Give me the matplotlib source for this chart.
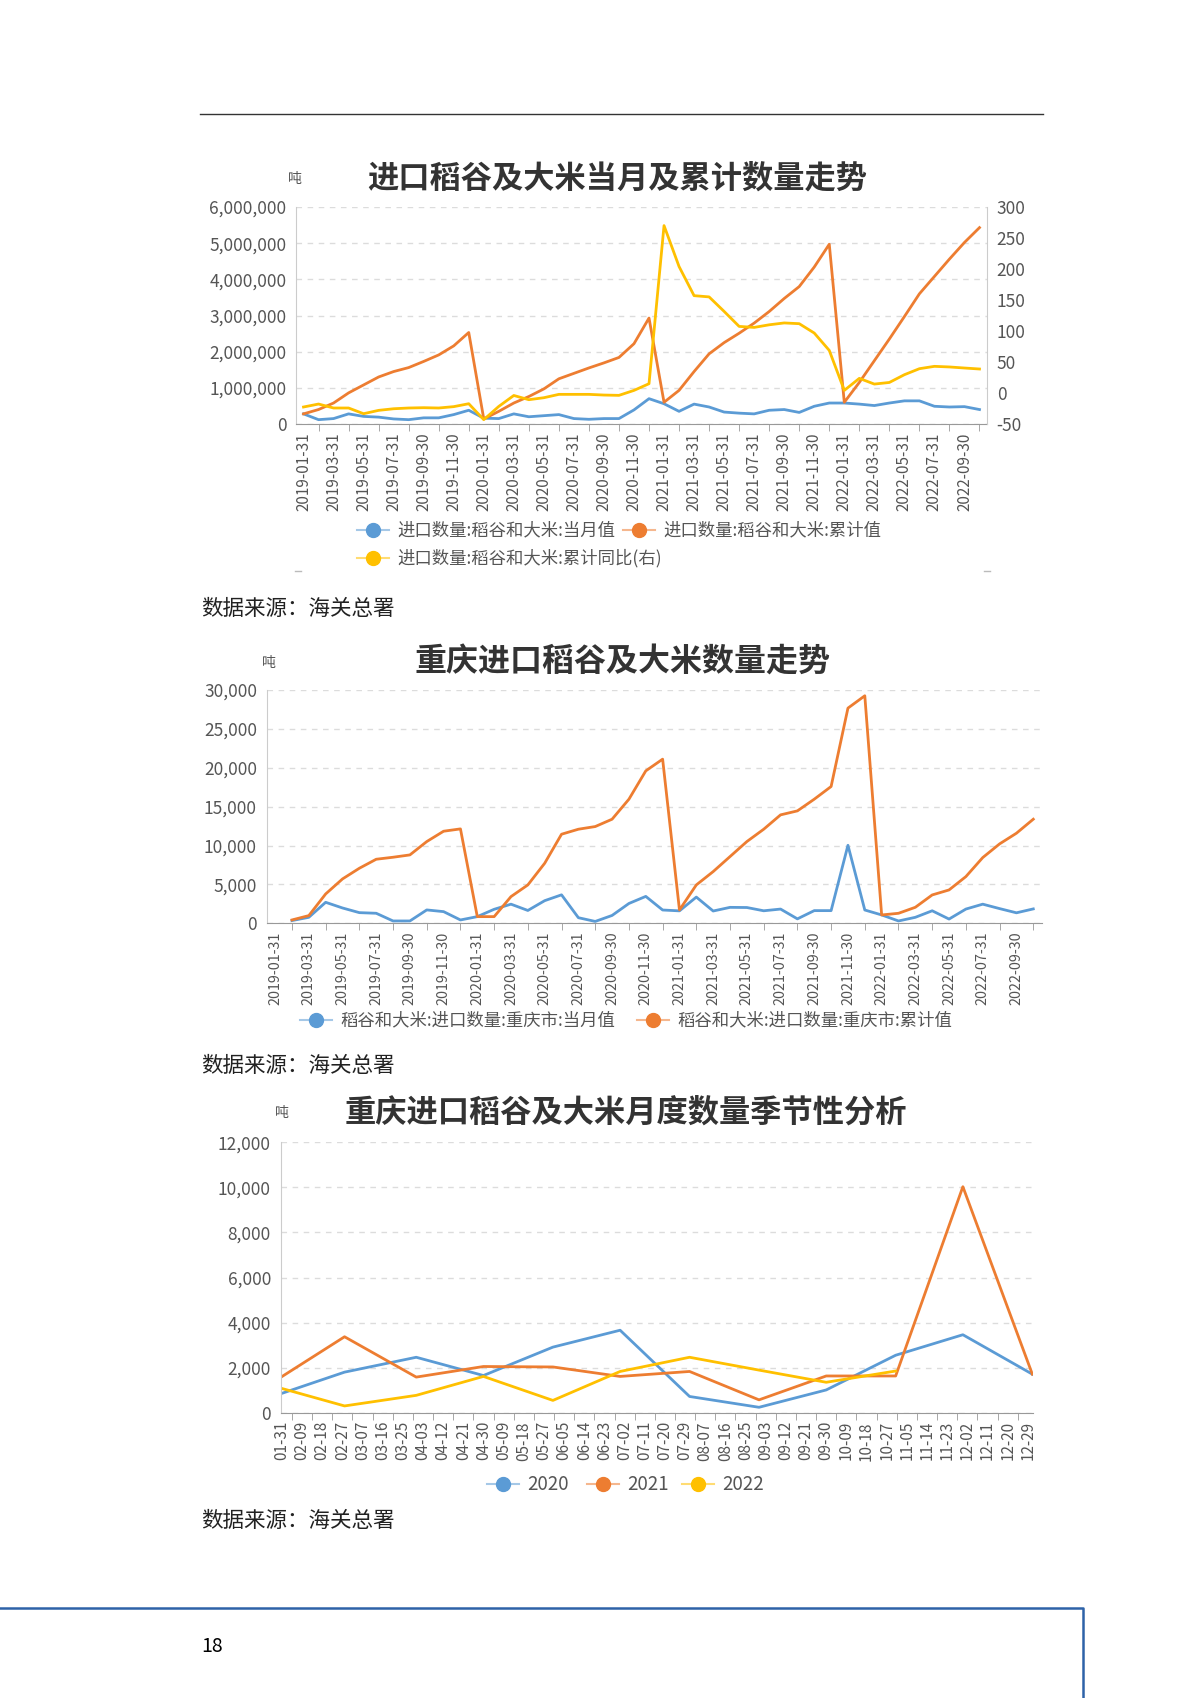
import matplotlib
matplotlib.use('Agg')
import matplotlib.pyplot as plt
from matplotlib.lines import Line2D
from matplotlib.ticker import FuncFormatter, FixedLocator

plt.rcParams['font.family'] = ['Noto Sans CJK SC', 'DejaVu Sans']
plt.rcParams['axes.unicode_minus'] = False

# ---------------- 数据 ----------------
# 图1: 2019-01 ~ 2022-10 月度
months1 = ['%d-%02d-%02d' % (y, m, [31, 28, 31, 30, 31, 30, 31, 31, 30, 31, 30, 31][m - 1])
           for y in range(2019, 2023) for m in range(1, 13)][:46]
monthly_total = [280000, 120000, 150000, 280000, 210000, 190000, 140000, 120000, 170000, 170000, 260000, 380000,
                 160000, 150000, 280000, 200000, 230000, 260000, 150000, 130000, 150000, 150000, 390000, 700000,
                 560000, 350000, 550000, 470000, 330000, 300000, 280000, 380000, 400000, 320000, 490000, 580000,
                 580000, 550000, 510000, 580000, 640000, 640000, 490000, 470000, 480000, 400000]
cum_total = [280000, 400000, 580000, 860000, 1080000, 1300000, 1450000, 1560000, 1730000, 1910000, 2160000, 2530000,
             140000, 350000, 580000, 760000, 970000, 1250000, 1400000, 1550000, 1690000, 1840000, 2220000, 2930000,
             600000, 930000, 1450000, 1940000, 2250000, 2510000, 2790000, 3110000, 3470000, 3800000, 4340000, 4970000,
             600000, 1150000, 1750000, 2350000, 2970000, 3600000, 4080000, 4560000, 5020000, 5430000]
cum_yoy = [-22.6, -17.8, -24.2, -24.2, -33.4, -28.0, -25.4, -24.2, -23.7, -24.2, -22.0, -17.3,
           -43.0, -21.6, -4.0, -10.8, -7.6, -2.2, -2.2, -2.2, -3.3, -3.8, 4.2, 15.0,
           270.0, 204.0, 157.0, 155.0, 131.6, 107.4, 105.8, 110.0, 113.0, 111.8, 96.7, 68.7,
           4.2, 23.6, 14.4, 17.0, 29.5, 39.2, 43.0, 42.0, 40.3, 38.7]

# 图2: 重庆 2019-01 ~ 2022-10 (2019-01 无数据)
months2 = months1
cq_monthly = [None, 350, 770, 2700, 1970, 1370, 1290, 300, 300, 1720, 1500, 430,
              858, 1800, 2460, 1650, 2910, 3660, 720, 240, 1010, 2550, 3460, 1710,
              1600, 3370, 1580, 2050, 2030, 1610, 1830, 570, 1630, 1630, 10030, 1710,
              1076, 300, 770, 1610, 545, 1830, 2460, 1890, 1350, 1850]
cq_cum = [None, 430, 990, 3775, 5706, 7079, 8237, 8494, 8795, 10510, 11840, 12140,
          858, 858, 3432, 4934, 7722, 11454, 12098, 12441, 13385, 15959, 19600, 21107,
          1716, 4934, 6650, 8580, 10510, 12098, 13943, 14457, 15959, 17589, 27670, 29258,
          1072, 1287, 2059, 3646, 4290, 6006, 8451, 10210, 11583, 13385]

# 图3: 季节性 (按闰年日序)
season_days = [31, 59, 91, 121, 152, 182, 213, 244, 274, 305, 335, 366]
s2020 = [858, 1800, 2460, 1650, 2910, 3660, 720, 240, 1010, 2550, 3460, 1710]
s2021 = [1600, 3370, 1580, 2050, 2030, 1610, 1830, 570, 1630, 1630, 10030, 1710]
s2022 = [1076, 300, 770, 1610, 545, 1830, 2460, 1890, 1350, 1850]
season_labels = ['01-31', '02-09', '02-18', '02-27', '03-07', '03-16', '03-25', '04-03', '04-12', '04-21',
                 '04-30', '05-09', '05-18', '05-27', '06-05', '06-14', '06-23', '07-02', '07-11', '07-20',
                 '07-29', '08-07', '08-16', '08-25', '09-03', '09-12', '09-21', '09-30', '10-09', '10-18',
                 '10-27', '11-05', '11-14', '11-23', '12-02', '12-11', '12-20', '12-29']

BLUE = '#5B9BD5'
ORANGE = '#ED7D31'
YELLOW = '#FFC000'
GRID = '#DCDCDC'
TXT = '#555555'

W, H = 1200, 1698
fig = plt.figure(figsize=(W / 100, H / 100), dpi=100)


def px(x):
    return x / W


def py(y):
    return 1 - y / H


def box(x0, y0, x1, y1):
    return [px(x0), py(y1), (x1 - x0) / W, (y1 - y0) / H]


def style_ax(ax, xsize=11):
    for s in ['top', 'right']:
        ax.spines[s].set_visible(False)
    ax.spines['left'].set_color('#CCCCCC')
    ax.spines['bottom'].set_color('#999999')
    ax.grid(axis='y', color=GRID, linestyle=(0, (4, 4)), linewidth=1)
    ax.set_axisbelow(True)
    ax.tick_params(axis='y', length=0, labelsize=12.5, labelcolor=TXT, pad=7)
    ax.tick_params(axis='x', which='major', length=0, labelsize=xsize, labelcolor=TXT, pad=6)
    ax.tick_params(axis='x', which='minor', length=5, color='#999999')
    ax.yaxis.set_major_formatter(FuncFormatter(lambda v, p: f'{v:,.0f}'))


def legend_item(x, y, color, label, size=12):
    fig.add_artist(Line2D([px(x - 16), px(x + 16)], [py(y), py(y)], color=color, lw=1.5, alpha=0.55,
                          transform=fig.transFigure))
    fig.add_artist(Line2D([px(x)], [py(y)], marker='o', ms=10, color=color, mec=color,
                          transform=fig.transFigure))
    fig.text(px(x + 24), py(y), label, fontsize=size, color=TXT, va='center', ha='left')


def title(x, y, text, unit_x, size=22.5):
    fig.text(px(x), py(y), text, fontsize=size, fontweight='bold', color='#333333', ha='center', va='center')
    fig.text(px(unit_x), py(y), '吨', fontsize=10, color=TXT, ha='center', va='center')


def source(y):
    fig.text(px(201), py(y), '数据来源：海关总署', fontsize=15.5, color='#222222', va='center')


# 顶部横线
fig.add_artist(Line2D([px(200), px(1043)], [py(114), py(114)], color='#333333', lw=1, transform=fig.transFigure))

# ---------------- 图1 ----------------
title(617, 179, '进口稻谷及大米当月及累计数量走势', 295)
ax1 = fig.add_axes(box(296, 207, 987, 424))
x1 = list(range(len(months1)))
ax1.plot(x1, monthly_total, color=BLUE, lw=2)
ax1.plot(x1, cum_total, color=ORANGE, lw=2)
style_ax(ax1)
ax1.set_xlim(-0.5, len(months1) - 0.5)
ax1.set_ylim(0, 6000000)
ax1.set_yticks(range(0, 6000001, 1000000))
ax1.set_xticks(x1[::2])
ax1.set_xticklabels(months1[::2], rotation=90, va='top', ha='center')
ax1.xaxis.set_minor_locator(FixedLocator(x1[1::2]))
ax1r = ax1.twinx()
ax1r.plot(x1, cum_yoy, color=YELLOW, lw=2)
ax1r.set_ylim(-50, 300)
ax1r.set_yticks(range(-50, 301, 50))
for s in ['top', 'left', 'bottom']:
    ax1r.spines[s].set_visible(False)
ax1r.spines['right'].set_color('#CCCCCC')
ax1r.tick_params(axis='y', length=0, labelsize=12.5, labelcolor=TXT, pad=7)
ax1r.set_xlim(-0.5, len(months1) - 0.5)

legend_item(373, 530, BLUE, '进口数量:稻谷和大米:当月值', 12.5)
legend_item(639, 530, ORANGE, '进口数量:稻谷和大米:累计值', 12.5)
legend_item(373, 558, YELLOW, '进口数量:稻谷和大米:累计同比(右)', 12.5)
for xx in (298, 987):
    fig.add_artist(Line2D([px(xx - 3), px(xx + 3)], [py(571), py(571)], color='#BBBBBB', lw=1,
                          transform=fig.transFigure))

source(609)

# ---------------- 图2 ----------------
title(623, 663, '重庆进口稻谷及大米数量走势', 269, 23)
ax2 = fig.add_axes(box(266.7, 690, 1041.7, 923.3))
x2 = list(range(len(months2)))
ax2.plot(x2, [float('nan') if v is None else v for v in cq_monthly], color=BLUE, lw=2)
ax2.plot(x2, [float('nan') if v is None else v for v in cq_cum], color=ORANGE, lw=2)
style_ax(ax2, 10.3)
ax2.set_xlim(-0.5, len(months2) - 0.5)
ax2.set_ylim(0, 30000)
ax2.set_yticks(range(0, 30001, 5000))
ax2.set_xticks(x2[::2])
ax2.set_xticklabels(months2[::2], rotation=90, va='top', ha='center')
ax2.xaxis.set_minor_locator(FixedLocator(x2[1::2]))

legend_item(316, 1020, BLUE, '稻谷和大米:进口数量:重庆市:当月值', 12.5)
legend_item(653, 1020, ORANGE, '稻谷和大米:进口数量:重庆市:累计值', 12.5)

source(1066)

# ---------------- 图3 ----------------
title(626, 1113, '重庆进口稻谷及大米月度数量季节性分析', 282)
ax3 = fig.add_axes(box(280.7, 1142.3, 1033, 1412.7))
ax3.plot(season_days, s2020, color=BLUE, lw=2)
ax3.plot(season_days, s2021, color=ORANGE, lw=2)
ax3.plot(season_days[:len(s2022)], s2022, color=YELLOW, lw=2)
style_ax(ax3)
ax3.set_xlim(30.5, 366.3)
ax3.set_ylim(0, 12000)
ax3.set_yticks(range(0, 12001, 2000))
lab_pos = [31 + 9 * i for i in range(len(season_labels))]
ax3.set_xticks(lab_pos)
ax3.set_xticklabels(season_labels, rotation=90, va='top', ha='center')
ax3.xaxis.set_minor_locator(FixedLocator([p + 4.5 for p in lab_pos]))

legend_item(503, 1484, BLUE, '2020', 13.5)
legend_item(603, 1484, ORANGE, '2021', 13.5)
legend_item(698, 1484, YELLOW, '2022', 13.5)

source(1521)

# 页脚
fig.add_artist(Line2D([0, px(1083), px(1083)], [py(1608), py(1608), 0], color='#2E62A8', lw=1.8,
                      transform=fig.transFigure))
fig.text(px(201), py(1646), '18', fontsize=14, color='black', va='center')

fig.savefig('out.png', dpi=100)
